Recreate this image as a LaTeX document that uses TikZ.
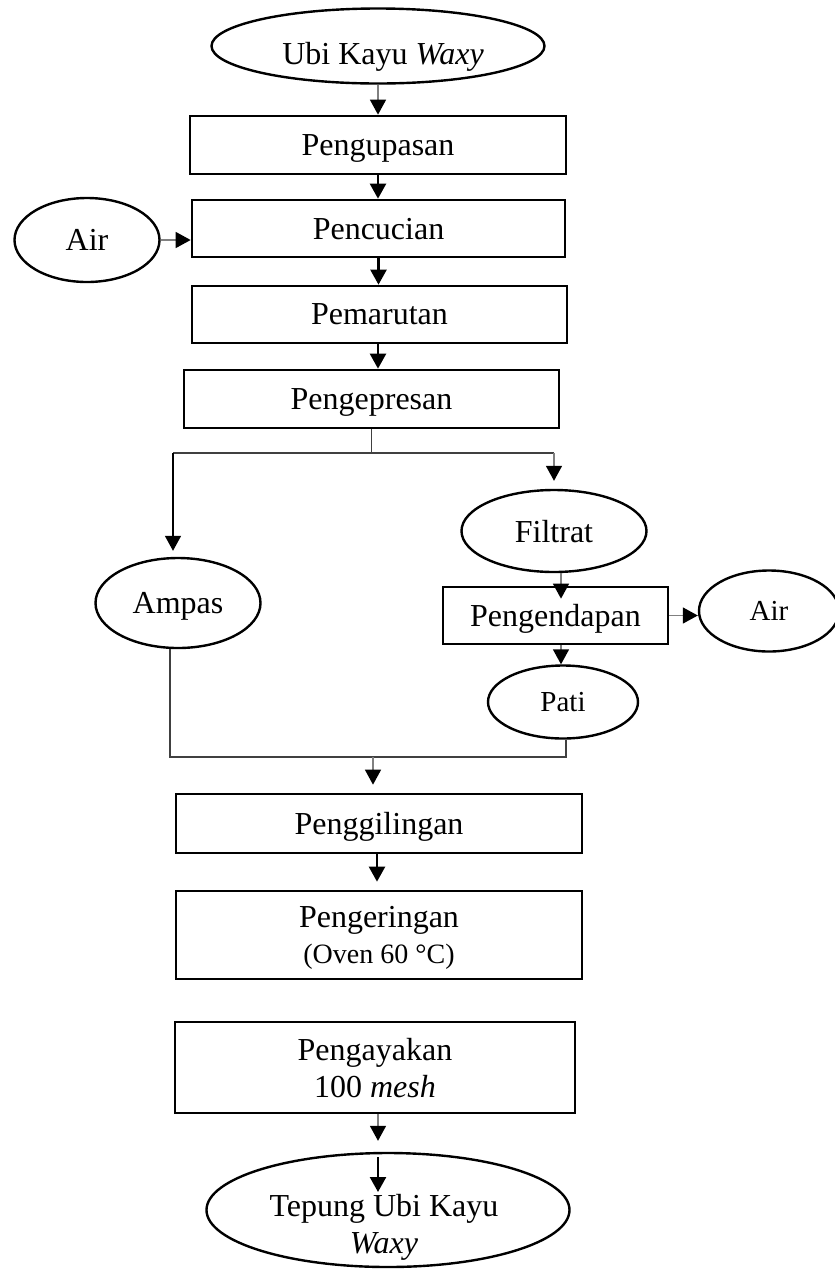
\documentclass[tikz,border=0pt]{standalone}
\usepackage{fontspec}
\setmainfont{Liberation Serif}
\usetikzlibrary{shapes.geometric,arrows.meta}
\tikzset{
  x=1pt,y=-1pt,
  txt/.style={font=\fontsize{32}{37}\selectfont, inner sep=0pt},
  procbox/.style={draw, line width=2.7pt, rectangle, inner sep=0pt, align=center,
    text depth=0pt, font=\fontsize{32}{37}\selectfont},
  term/.style={draw, line width=2.4pt, ellipse, inner sep=0pt, align=center,
    text depth=0pt, font=\fontsize{32}{37}\selectfont},
  blackarrow/.style={-{Triangle[width=16pt,length=15pt]}, line width=2.4pt, black},
  greyarrow/.style={-{Triangle[width=16pt,length=15pt,color=black]}, line width=1.5pt, draw=black!50},
  darkline/.style={line width=1.5pt, draw=black!75},
}
\begin{document}
\begin{tikzpicture}
\useasboundingbox (0,0) rectangle (835,1270);

% nodes
\node[term, minimum width=333pt, minimum height=75pt] (ubi) at (378,46) {};
\node[txt, text depth=0pt] (ubit) at (383,53) {Ubi Kayu \textit{Waxy}};
\node[procbox, minimum width=376pt, minimum height=58pt] (kupas) at (378,145) {Pengupasan};
\node[procbox, minimum width=373pt, minimum height=57pt] (cuci) at (378.5,228.5) {Pencucian};
\node[term, minimum width=145pt, minimum height=84pt] (airL) at (87,240) {Air};
\node[procbox, minimum width=375pt, minimum height=57pt] (parut) at (379.5,314.5) {Pemarutan};
\node[procbox, minimum width=375pt, minimum height=58pt] (press) at (371.5,399) {Pengepresan};
\node[term, minimum width=165pt, minimum height=90pt] (ampas) at (178,603) {Ampas};
\node[term, minimum width=185pt, minimum height=82pt] (filtrat) at (554,531) {Filtrat};
\node[procbox, minimum width=225pt, minimum height=57pt] (endap) at (555.5,615.5) {Pengendapan};
\node[term, minimum width=140pt, minimum height=81pt, font=\fontsize{29}{35}\selectfont] (airR) at (769,611) {Air};
\node[term, minimum width=150pt, minimum height=73pt, font=\fontsize{29}{35}\selectfont] (pati) at (563,702) {Pati};
\node[procbox, minimum width=406pt, minimum height=59pt] (giling) at (379,823.5) {Penggilingan};
\node[procbox, minimum width=406pt, minimum height=88pt] (kering) at (379,935)
  {Pengeringan\\[-1pt]{\fontsize{28}{34}\selectfont(Oven 60 °C)}};
\node[procbox, minimum width=400pt, minimum height=91pt] (ayak) at (375,1067.5)
  {Pengayakan\\100 \textit{mesh}};
\node[term, minimum width=363pt, minimum height=114pt] (tepung) at (388,1210) {};
\node[txt, align=center] (tepungt) at (384,1227) {Tepung Ubi Kayu\\\textit{Waxy}};

% connectors
\draw[greyarrow] (ubi.south) -- (ubi.south |- kupas.north);
\draw[blackarrow] (kupas.south) -- (kupas.south |- cuci.north);
\draw[greyarrow] (airL.east) -- (airL.east -| cuci.west);
\draw[blackarrow] (cuci.south) -- (cuci.south |- parut.north);
\draw[blackarrow] (parut.south -| 378,0) -- (378,0 |- press.north);

\coordinate (split) at (371.5,453);
\coordinate (spL) at (173,453);
\coordinate (spR) at (554,453);
\draw[darkline] (press.south) -- (split);
\draw[darkline] (spL) -- (spR);
\draw[blackarrow, line width=1.5pt, shorten >=6pt] (spL) -- (spL |- ampas.north);
\draw[greyarrow, shorten >=8pt] (spR) -- (spR |- filtrat.north);

\draw[greyarrow, shorten >=-13pt] (filtrat.south -| 561,0) -- (561,0 |- endap.north);
\draw[greyarrow] (endap.east) -- (endap.east -| airR.west);
\draw[greyarrow] (endap.south -| 561,0) -- (561,0 |- pati.north);

\coordinate (mgL) at (170,757);
\coordinate (mgR) at (566,757);
\coordinate (mgC) at (373,757);
\draw[darkline] (ampas.south -| mgL) -- (mgL) -- (mgR) -- (mgR |- pati.south);
\draw[greyarrow, shorten >=8pt] (mgC) -- (mgC |- giling.north);

\draw[blackarrow, shorten >=8pt] (giling.south -| 377,0) -- (377,0 |- kering.north);

\draw[greyarrow, shorten >=11pt] (ayak.south -| 378,0) -- (378,0 |- tepung.north);
\coordinate (tin1) at (378,1157);
\coordinate (tin2) at (378,1192);
\draw[blackarrow] (tin1) -- (tin2);
\end{tikzpicture}
\end{document}
